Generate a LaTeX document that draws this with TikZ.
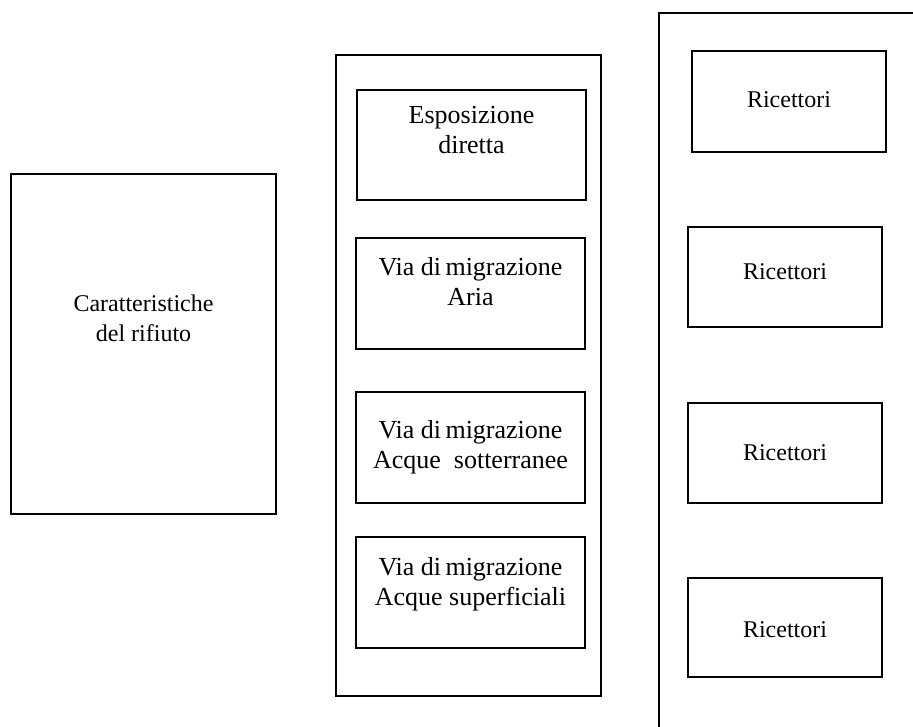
\documentclass[tikz,border=0pt]{standalone}
\usepackage{fontspec}
\setmainfont{Liberation Serif}

\tikzset{
  box/.style={draw, line width=1.5pt, inner sep=0pt},
  frame/.style={draw, line width=1.5pt},
  midtxt/.style={align=center, font=\fontsize{26}{30}\selectfont},
  sidetxt/.style={align=center, font=\fontsize{24}{30}\selectfont},
}

\begin{document}
\begin{tikzpicture}[x=1pt, y=-1pt]
  \useasboundingbox (0,0) rectangle (913,727);

  \node[box, minimum width=265pt, minimum height=340pt,
        label={[sidetxt, yshift=26pt]center:Caratteristiche\\del rifiuto}] (rifiuto) at (143.5,344) {};

  \node[box, minimum width=265pt, minimum height=641pt] (vie) at (468.5,375.5) {};
  \node[box, minimum width=229pt, minimum height=110pt,
        label={[midtxt, yshift=15pt]center:Esposizione\\diretta}] (diretta) at (471.5,145) {};
  \node[box, minimum width=229pt, minimum height=111pt,
        label={[midtxt, yshift=11.5pt]center:Via di\,migrazione\\Aria}] (aria) at (470.5,293.5) {};
  \node[box, minimum width=229pt, minimum height=111pt,
        label={[midtxt]center:Via di\,migrazione\\Acque\ \ sotterranee}] (sotterranee) at (470.5,447.5) {};
  \node[box, minimum width=229pt, minimum height=111pt,
        label={[midtxt, yshift=8.5pt]center:Via di\,migrazione\\Acque superficiali}] (superficiali) at (470.5,592.5) {};

  \coordinate (rtop) at (913,13);
  \coordinate (rbot) at (659,727);
  \draw[frame] (rtop) -| (rbot);
  \node[box, minimum width=194pt, minimum height=101pt,
        label={[sidetxt, yshift=1.5pt]center:Ricettori}] (ric1) at (789,101.5) {};
  \node[box, minimum width=194pt, minimum height=100pt,
        label={[sidetxt, yshift=5pt]center:Ricettori}] (ric2) at (785,277) {};
  \node[box, minimum width=194pt, minimum height=100pt,
        label={[sidetxt]center:Ricettori}] (ric3) at (785,453) {};
  \node[box, minimum width=194pt, minimum height=99pt,
        label={[sidetxt, yshift=-2.5pt]center:Ricettori}] (ric4) at (785,627.5) {};
\end{tikzpicture}
\end{document}
